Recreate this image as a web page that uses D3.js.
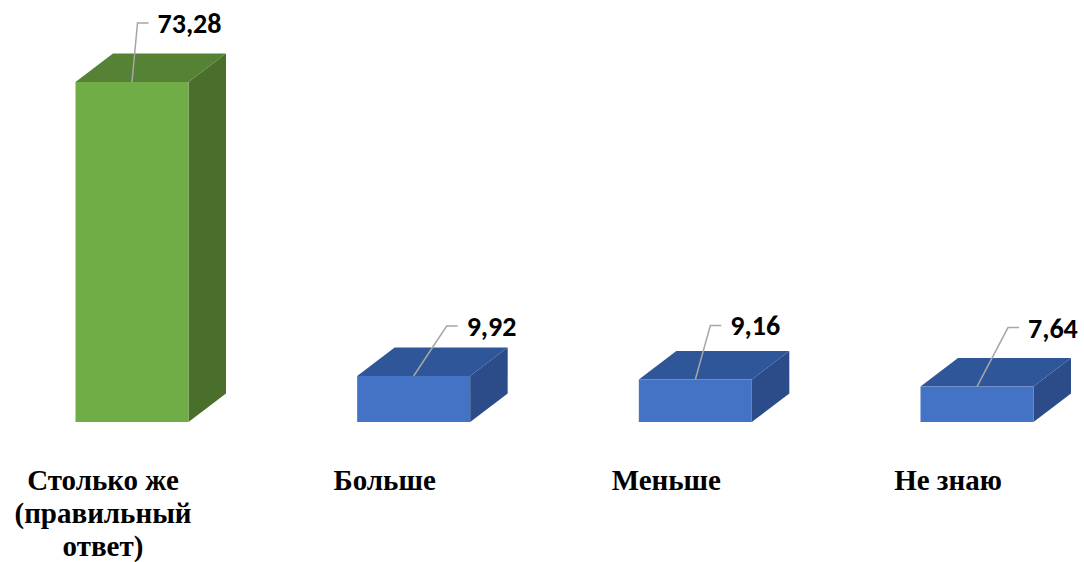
<!DOCTYPE html>
<html>
<head>
<meta charset="utf-8">
<script src="https://cdn.jsdelivr.net/npm/d3@7"></script>
</head>
<body style="margin:0">
<svg id="chart" width="1084" height="562"></svg>
<script>
// ---- data ----
const categories = ["Столько же (правильный ответ)", "Больше", "Меньше", "Не знаю"];
const values = [73.28, 9.92, 9.16, 7.64];
const valueLabels = ["73,28", "9,92", "9,16", "7,64"];

// ---- styling / layout ----
const frontColors = ["#70AD47", "#4472C4", "#4472C4", "#4472C4"];
const topColors   = ["#558235", "#30569A", "#30569A", "#30569A"];
const sideColors  = ["#4A6F2B", "#2B4C88", "#2B4C88", "#2B4C88"];
const labelElbows = [[5.5, -59], [33, -50], [15, -54], [31, -59]]; // leader-line elbow offsets from top-front centre

const svg = d3.select("#chart");

const x = d3.scalePoint().domain(categories).range([103, 948]);
const y = d3.scaleLinear().domain([0, 80]).range([422, 50.8]);

const barW = 113, barShift = 29, depthX = 37.5, depthY = -28.5;

const g = svg.append("g");

const bars = g.selectAll("g.bar").data(categories).join("g").attr("class", "bar");

bars.each(function (c, i) {
  const sel = d3.select(this);
  const cx = x(c) + barShift;
  const x0 = cx - barW / 2, x1 = cx + barW / 2;
  const yt = y(values[i]), yb = y(0);
  sel.append("path")
    .attr("d", `M${x1},${yt} L${x1 + depthX},${yt + depthY} L${x1 + depthX},${yb + depthY} L${x1},${yb} Z`)
    .attr("fill", sideColors[i]);
  sel.append("path")
    .attr("d", `M${x0},${yt} L${x0 + depthX},${yt + depthY} L${x1 + depthX},${yt + depthY} L${x1},${yt} Z`)
    .attr("fill", topColors[i]);
  sel.append("rect")
    .attr("x", x0).attr("y", yt)
    .attr("width", barW).attr("height", yb - yt)
    .attr("fill", frontColors[i]);
});

bars.each(function (c, i) {
  const sel = d3.select(this);
  const cx = x(c) + barShift;
  const yt = y(values[i]);
  const ex = cx + labelElbows[i][0], ey = yt + labelElbows[i][1];
  sel.append("path")
    .attr("d", `M${cx},${yt} L${ex},${ey} L${ex + 11},${ey}`)
    .attr("fill", "none")
    .attr("stroke", "#A6A6A6")
    .attr("stroke-width", 1.5);
  sel.append("text")
    .attr("x", ex + 20)
    .attr("y", ey + 10)
    .style("font-family", '"Carlito"')
    .style("font-weight", "bold")
    .style("font-size", "28px")
    .attr("fill", "#000")
    .text(valueLabels[i]);
});

// category labels, split into lines no wider than maxW
const maxW = 200;
categories.forEach((c, i) => {
  const words = c.split(" ");
  const lines = [];
  let cur = [];
  const probe = g.append("text")
    .style("font-family", '"Liberation Serif"')
    .style("font-weight", "bold")
    .style("font-size", "29px");
  words.forEach(w => {
    const trial = cur.concat([w]).join(" ");
    probe.text(trial);
    if (probe.node().getComputedTextLength() > maxW && cur.length) {
      lines.push(cur.join(" "));
      cur = [w];
    } else {
      cur.push(w);
    }
  });
  lines.push(cur.join(" "));
  probe.remove();
  lines.forEach((ln, k) => {
    g.append("text")
      .attr("x", x(c))
      .attr("y", 490 + k * 33)
      .attr("text-anchor", "middle")
      .style("font-family", '"Liberation Serif"')
      .style("font-weight", "bold")
      .style("font-size", "29px")
      .attr("fill", "#000")
      .text(ln);
  });
});
</script>
</body>
</html>
